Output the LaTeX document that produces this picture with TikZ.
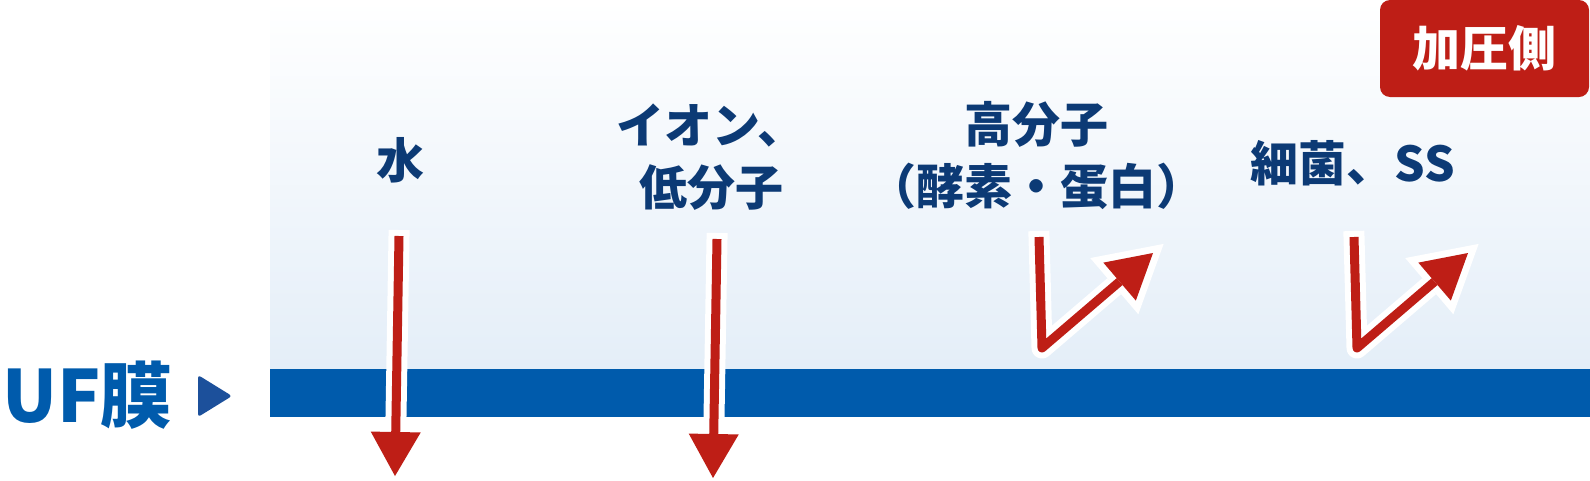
\documentclass[tikz,border=0pt]{standalone}
\usepackage{fontspec}
\setmainfont{Noto Sans CJK JP}
\usepackage{xcolor}
\usetikzlibrary{arrows.meta}
\definecolor{ufblue}{RGB}{0,91,172}
\definecolor{markblue}{RGB}{28,80,155}
\definecolor{navy}{RGB}{12,58,117}
\definecolor{flowred}{RGB}{190,30,22}
\definecolor{paleblue}{RGB}{228,238,248}
\tikzstyle{particle} = [text=navy, font=\fontsize{48}{62}\selectfont\bfseries, align=center, inner sep=0pt]
\tikzstyle{halo} = [draw=white, line width=21pt, line join=round, shorten <=-6pt, shorten >=-14pt, -{Triangle[length=65pt,width=74pt,line width=0pt]}]
\tikzstyle{flow} = [draw=flowred, line width=9pt, line join=round, -{Triangle[length=44pt,width=50pt,line width=0pt]}]

\begin{document}
\begin{tikzpicture}[x=1pt, y=-1pt]
    \useasboundingbox (0,0) rectangle (1590,480);

    % Membrane side
    \shade [top color=white, bottom color=paleblue] (270,0) rectangle (1590,369);
    \fill [ufblue] (270,369) rectangle (1590,417);

    % Nodes
    \node (uf) [anchor=west, text=ufblue, font=\fontsize{72}{72}\selectfont\bfseries, inner sep=0pt] at (2,395) {UF膜};
    \fill [markblue, rounded corners=3pt] (198,375) -- (232,396) -- (198,417) -- cycle;
    \node (press) [fill=flowred, rounded corners=10pt, minimum width=209pt, minimum height=97pt, text=white, font=\fontsize{48}{48}\selectfont\bfseries] at (1484.5,48.5) {加圧側};
    \node (water) [particle] at (400,160) {水};
    \node (ion) [particle] at (711,157) {イオン、\\低分子};
    \node (poly) [particle] at (1036,156) {高分子\\（酵素・蛋白）};
    \node (bact) [particle] at (1353,163) {細菌、SS};

    % Arrows
    \coordinate (w1) at (399,236);
    \coordinate (w2) at (395,476);
    \coordinate (i1) at (717,239);
    \coordinate (i2) at (713,478);
    \coordinate (p1) at (1039,237);
    \coordinate (p2) at (1042,348);
    \coordinate (p3) at (1153,253);
    \coordinate (b1) at (1354,237);
    \coordinate (b2) at (1357,348);
    \coordinate (b3) at (1468,253);
    \draw [halo] (w1) -- (w2);
    \draw [halo] (i1) -- (i2);
    \draw [halo] (p1) -- (p2) -- (p3);
    \draw [halo] (b1) -- (b2) -- (b3);
    \draw [flow] (w1) -- (w2);
    \draw [flow] (i1) -- (i2);
    \draw [flow] (p1) -- (p2) -- (p3);
    \draw [flow] (b1) -- (b2) -- (b3);

\end{tikzpicture}
\end{document}
